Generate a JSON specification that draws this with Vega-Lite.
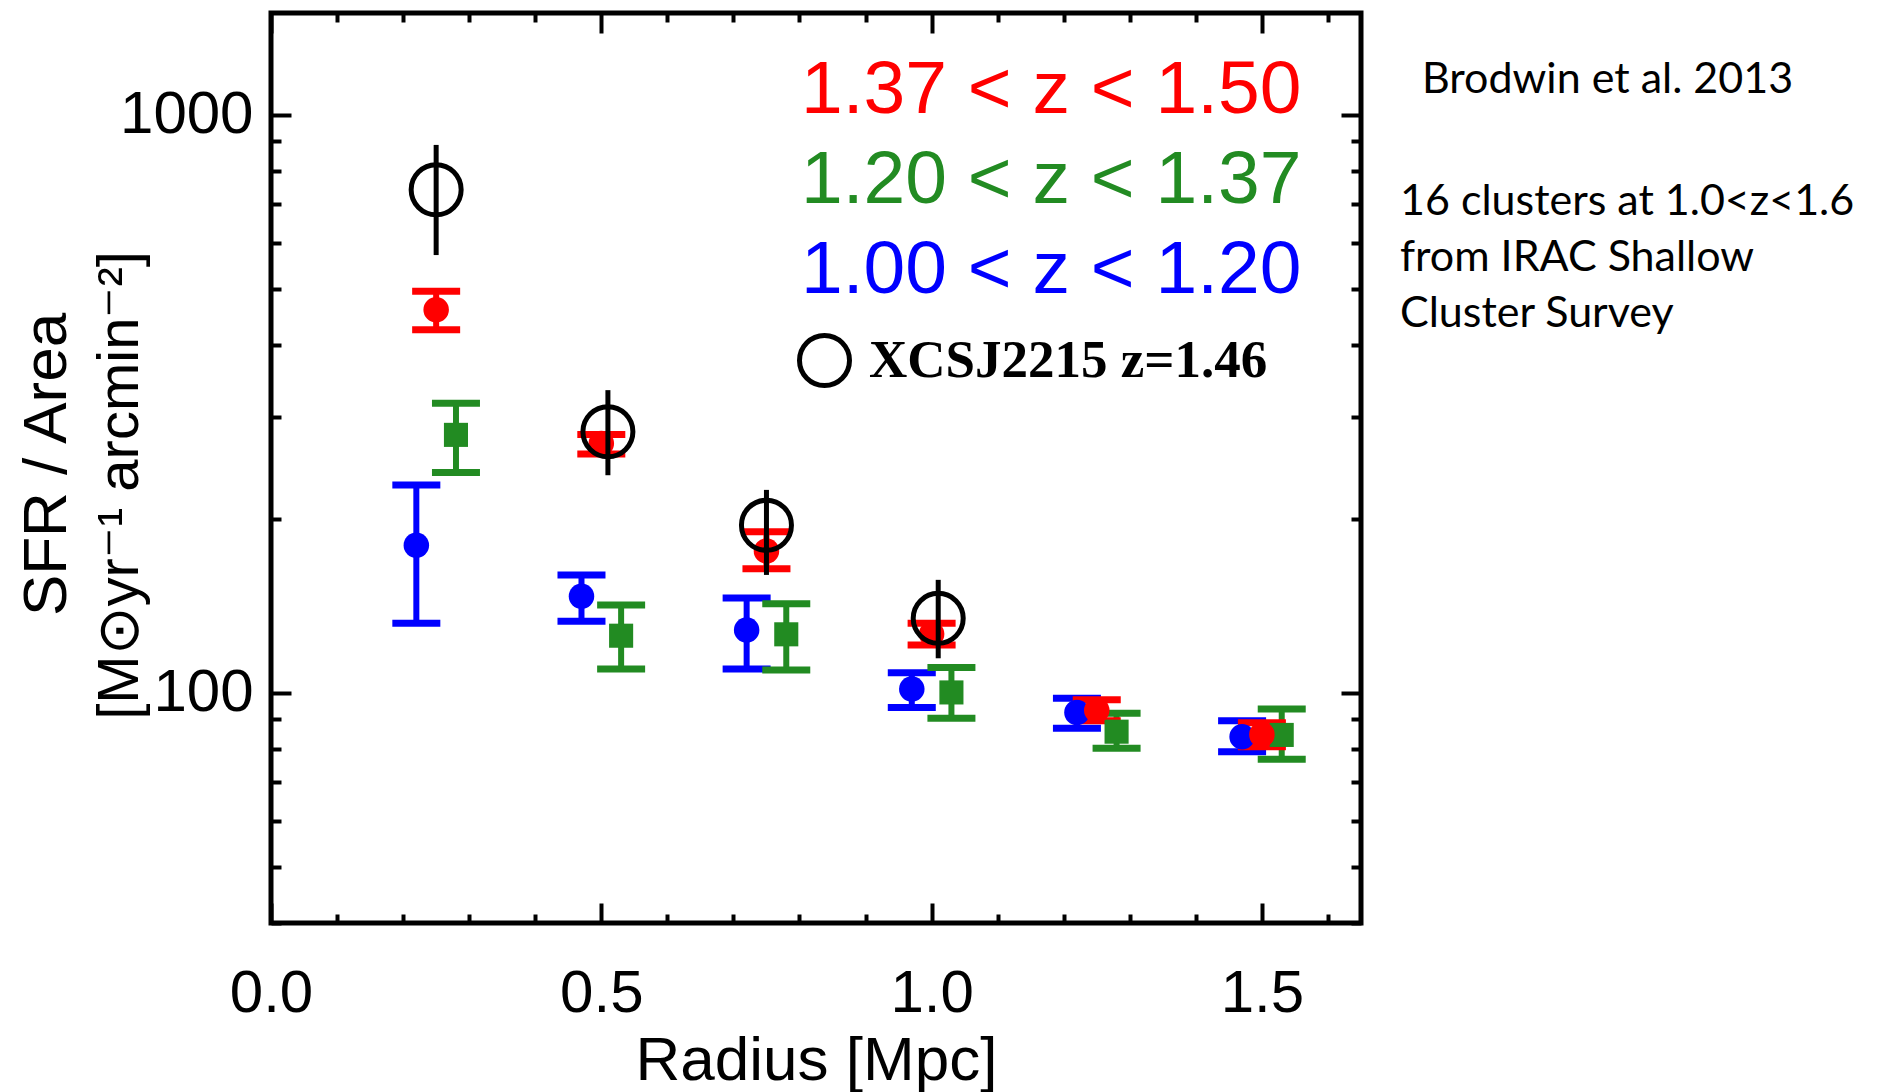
{
  "$schema": "https://vega.github.io/schema/vega-lite/v6.json",
  "width": 1090,
  "height": 910,
  "autosize": "none",
  "padding": {"left": 271, "top": 13, "right": 518, "bottom": 169},
  "background": "white",
  "title": {
    "text": "\u200b\u00a0\u00a0Brodwin et al. 2013",
    "subtitle": ["16 clusters at 1.0<z<1.6", "from IRAC Shallow", "Cluster Survey"],
    "orient": "top",
    "anchor": "start",
    "frame": "group",
    "align": "left",
    "font": "Lato",
    "fontSize": 43,
    "fontWeight": "normal",
    "color": "black",
    "subtitleFont": "Lato",
    "subtitleFontSize": 43,
    "subtitleColor": "black",
    "subtitleLineHeight": 56,
    "subtitlePadding": 79,
    "dx": 1129,
    "dy": 329
  },
  "data": {
    "values": [
      {"z": "1.00 < z < 1.20", "r": 0.22, "sfr": 180, "lo": 132, "hi": 229},
      {"z": "1.00 < z < 1.20", "r": 0.47, "sfr": 147, "lo": 133, "hi": 160},
      {"z": "1.00 < z < 1.20", "r": 0.72, "sfr": 128.5, "lo": 110, "hi": 146},
      {"z": "1.00 < z < 1.20", "r": 0.97, "sfr": 101.6, "lo": 94.4, "hi": 108.4},
      {"z": "1.00 < z < 1.20", "r": 1.22, "sfr": 92.5, "lo": 86.9, "hi": 97.9},
      {"z": "1.00 < z < 1.20", "r": 1.47, "sfr": 84, "lo": 79.1, "hi": 89.5},
      {"z": "1.20 < z < 1.37", "r": 0.28, "sfr": 279.5, "lo": 240.5, "hi": 317},
      {"z": "1.20 < z < 1.37", "r": 0.53, "sfr": 125.6, "lo": 110, "hi": 142},
      {"z": "1.20 < z < 1.37", "r": 0.78, "sfr": 126.3, "lo": 109.6, "hi": 142.6},
      {"z": "1.20 < z < 1.37", "r": 1.03, "sfr": 100.2, "lo": 90.4, "hi": 110.7},
      {"z": "1.20 < z < 1.37", "r": 1.28, "sfr": 85.7, "lo": 80.2, "hi": 92.2},
      {"z": "1.20 < z < 1.37", "r": 1.53, "sfr": 84.6, "lo": 76.8, "hi": 93.8},
      {"z": "1.37 < z < 1.50", "r": 0.25, "sfr": 460, "lo": 425, "hi": 495},
      {"z": "1.37 < z < 1.50", "r": 0.50, "sfr": 270, "lo": 259, "hi": 280},
      {"z": "1.37 < z < 1.50", "r": 0.75, "sfr": 176, "lo": 164, "hi": 190},
      {"z": "1.37 < z < 1.50", "r": 1.00, "sfr": 126.4, "lo": 121, "hi": 132},
      {"z": "1.37 < z < 1.50", "r": 1.25, "sfr": 93.3, "lo": 89.5, "hi": 97.3},
      {"z": "1.37 < z < 1.50", "r": 1.50, "sfr": 84.7, "lo": 80.7, "hi": 88.8},
      {"z": "XCSJ2215 z=1.46", "r": 0.25, "sfr": 742, "lo": 572, "hi": 887},
      {"z": "XCSJ2215 z=1.46", "r": 0.51, "sfr": 283, "lo": 238, "hi": 334},
      {"z": "XCSJ2215 z=1.46", "r": 0.75, "sfr": 195, "lo": 160, "hi": 224.5},
      {"z": "XCSJ2215 z=1.46", "r": 1.01, "sfr": 134.6, "lo": 114.8, "hi": 156.9}
    ]
  },
  "resolve": {"axis": {"x": "independent", "y": "independent"}},
  "layer": [
    {
      "transform": [{"filter": "datum.z !== 'XCSJ2215 z=1.46'"}],
      "mark": {"type": "rule", "strokeWidth": 6},
      "encoding": {
        "x": {"field": "r", "type": "quantitative",
          "scale": {"domain": [0, 1.65], "nice": false, "zero": false},
          "axis": {"orient": "bottom", "values": [0, 0.5, 1, 1.5], "format": ".1f", "ticks": false, "domain": false, "grid": false,
            "labelFont": "Liberation Sans", "labelFontSize": 60, "labelColor": "black", "labelBaseline": "alphabetic", "labelAlign": "center",
            "labelPadding": 88, "labelFlush": false, "labelOverlap": false,
            "title": "Radius [Mpc]", "titleFont": "Liberation Sans", "titleFontSize": 62, "titleFontWeight": "normal", "titleColor": "black",
            "titleBaseline": "alphabetic", "titleAlign": "center", "titleX": 545, "titleY": 156}},
        "y": {"field": "lo", "type": "quantitative",
          "scale": {"type": "log", "domain": [40, 1500], "nice": false},
          "axis": {"orient": "left", "values": [100, 1000], "format": "d", "ticks": false, "domain": false, "grid": false,
            "labelFont": "Liberation Sans", "labelFontSize": 60, "labelColor": "black", "labelBaseline": "middle", "labelAlign": "right",
            "labelPadding": 18, "labelFlush": false, "labelOverlap": false,
            "title": "SFR / Area", "titleFont": "Liberation Sans", "titleFontSize": 62, "titleFontWeight": "normal",
            "titleColor": "black", "titleAngle": -90, "titleAlign": "center", "titleBaseline": "alphabetic", "titleX": -206, "titleY": 451}},
        "y2": {"field": "hi"},
        "color": {"field": "z", "type": "nominal",
          "scale": {"domain": ["1.37 < z < 1.50", "1.20 < z < 1.37", "1.00 < z < 1.20"], "range": ["#ff0000", "#228b22", "#0000ff"]},
          "legend": {"orient": "none", "legendX": 455, "legendY": 39, "title": null, "padding": 0, "direction": "vertical",
            "symbolSize": 0, "symbolOpacity": 0, "symbolStrokeWidth": 0, "labelOffset": 0,
            "labelFont": "Liberation Sans", "labelFontSize": 75, "labelLimit": 2000, "rowPadding": 14,
            "encode": {"labels": {"update": {"fill": {"scale": "color", "field": "value"}}}}}}
      }
    },
    {
      "transform": [{"filter": "datum.z !== 'XCSJ2215 z=1.46'"}, {"fold": ["lo", "hi"], "as": ["bound", "val"]}],
      "mark": {"type": "tick", "orient": "horizontal", "size": 48, "thickness": 7, "opacity": 1},
      "encoding": {
        "x": {"field": "r", "type": "quantitative",
          "axis": {"orient": "bottom", "values": [0, 0.5, 1, 1.5], "labels": false, "domain": false, "grid": false, "title": null,
            "tickColor": "black", "tickWidth": 4, "tickSize": -20}},
        "y": {"field": "val", "type": "quantitative",
          "axis": {"orient": "left", "values": [100, 1000], "labels": false, "domain": false, "grid": false, "title": null,
            "tickColor": "black", "tickWidth": 4, "tickSize": -20}},
        "color": {"field": "z", "type": "nominal", "legend": null}
      }
    },
    {
      "transform": [{"filter": "datum.z === '1.20 < z < 1.37'"}],
      "mark": {"type": "point", "shape": "square", "filled": true, "size": 580, "opacity": 1},
      "encoding": {
        "x": {"field": "r", "type": "quantitative",
          "axis": {"orient": "bottom", "values": [0.1, 0.2, 0.3, 0.4, 0.6, 0.7, 0.8, 0.9, 1.1, 1.2, 1.3, 1.4, 1.6], "labels": false, "domain": false, "grid": false, "title": null,
            "tickColor": "black", "tickWidth": 4, "tickSize": -9}},
        "y": {"field": "sfr", "type": "quantitative",
          "axis": {"orient": "left", "values": [40, 50, 60, 70, 80, 90, 200, 300, 400, 500, 600, 700, 800, 900], "labels": false, "domain": false, "grid": false, "title": null,
            "tickColor": "black", "tickWidth": 4, "tickSize": -10}},
        "color": {"field": "z", "type": "nominal", "legend": null}
      }
    },
    {
      "transform": [{"filter": "datum.z === '1.00 < z < 1.20' || datum.z === '1.37 < z < 1.50'"}],
      "mark": {"type": "point", "shape": "circle", "filled": true, "size": 650, "opacity": 1},
      "encoding": {
        "x": {"field": "r", "type": "quantitative",
          "axis": {"orient": "top", "values": [0, 0.5, 1, 1.5], "labels": false, "domain": false, "grid": false, "title": null,
            "tickColor": "black", "tickWidth": 4, "tickSize": -20}},
        "y": {"field": "sfr", "type": "quantitative",
          "axis": {"orient": "right", "values": [100, 1000], "labels": false, "domain": false, "grid": false, "title": null,
            "tickColor": "black", "tickWidth": 4, "tickSize": -20}},
        "color": {"field": "z", "type": "nominal", "legend": null}
      }
    },
    {
      "transform": [{"filter": "datum.z === 'XCSJ2215 z=1.46'"}],
      "mark": {"type": "rule", "color": "black", "strokeWidth": 5},
      "encoding": {
        "x": {"field": "r", "type": "quantitative",
          "axis": {"orient": "top", "values": [0.1, 0.2, 0.3, 0.4, 0.6, 0.7, 0.8, 0.9, 1.1, 1.2, 1.3, 1.4, 1.6], "labels": false, "domain": false, "grid": false, "title": null,
            "tickColor": "black", "tickWidth": 4, "tickSize": -9}},
        "y": {"field": "lo", "type": "quantitative",
          "axis": {"orient": "right", "values": [40, 50, 60, 70, 80, 90, 200, 300, 400, 500, 600, 700, 800, 900], "labels": false, "domain": false, "grid": false, "title": null,
            "tickColor": "black", "tickWidth": 4, "tickSize": -10}},
        "y2": {"field": "hi"}
      }
    },
    {
      "transform": [{"filter": "datum.z === 'XCSJ2215 z=1.46'"}],
      "mark": {"type": "point", "shape": "circle", "filled": false, "color": "black", "size": 2500, "strokeWidth": 5, "opacity": 1},
      "encoding": {
        "x": {"field": "r", "type": "quantitative", "axis": null},
        "y": {"field": "sfr", "type": "quantitative",
          "axis": {"orient": "left", "labels": false, "ticks": false, "domain": false, "grid": false,
            "title": "[M\u2299yr\u207b\u00b9 arcmin\u207b\u00b2]", "titleFont": "Liberation Sans", "titleFontSize": 58, "titleFontWeight": "normal",
            "titleColor": "black", "titleAngle": -90, "titleAlign": "center", "titleBaseline": "alphabetic", "titleX": -134, "titleY": 472}},
        "shape": {"field": "z", "type": "nominal",
          "scale": {"domain": ["XCSJ2215 z=1.46"], "range": ["circle"]},
          "legend": {"orient": "none", "legendX": 526, "legendY": 320, "title": null, "padding": 0,
            "symbolSize": 2500, "symbolStrokeWidth": 5, "symbolStrokeColor": "black", "symbolFillColor": "transparent", "symbolOpacity": 1,
            "labelOffset": 17, "labelFont": "Liberation Serif", "labelFontWeight": "bold", "labelFontSize": 53, "labelLimit": 2000, "labelColor": "black",
            "encode": {"labels": {"update": {"dy": {"value": 13}}}}}}
      }
    }
  ],
  "config": {
    "view": {"stroke": "black", "strokeWidth": 5},
    "font": "Liberation Sans"
  }
}
